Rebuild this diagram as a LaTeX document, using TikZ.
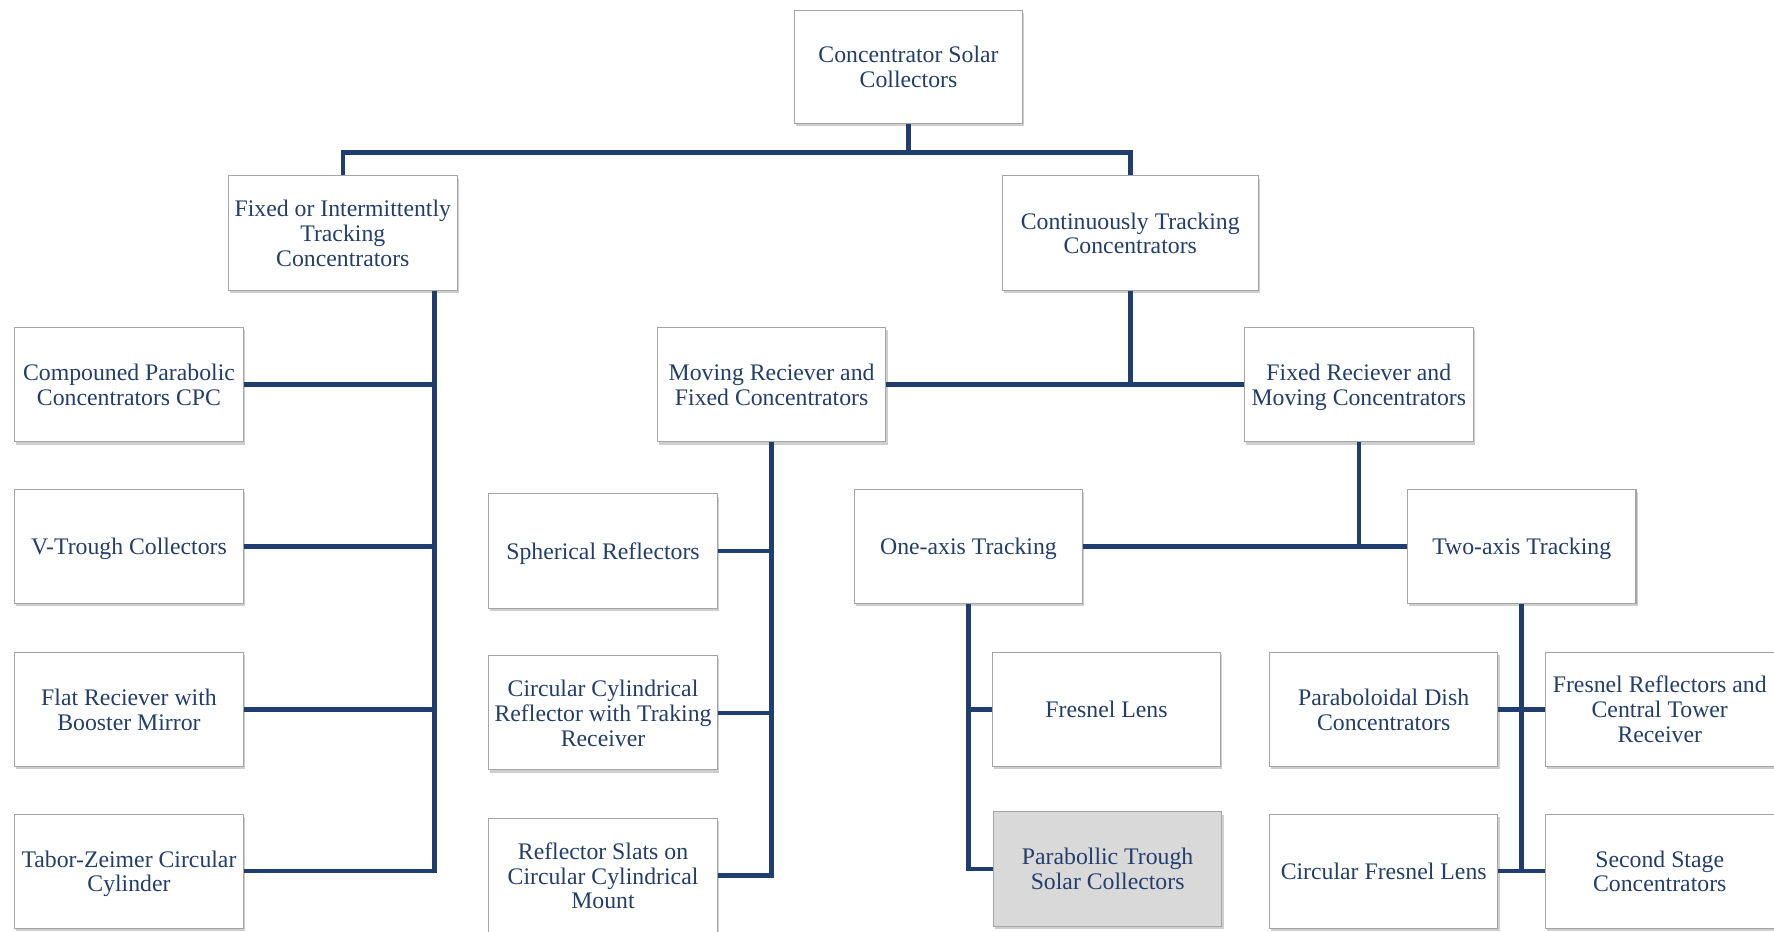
\documentclass[tikz,border=0pt]{standalone}
\usepackage{fontspec}
\setmainfont{Liberation Serif}
\usetikzlibrary{shadows,calc}
\definecolor{txt}{RGB}{36,62,108}
\definecolor{ln}{RGB}{31,61,110}
\definecolor{bd}{RGB}{165,165,165}
\definecolor{grayfill}{RGB}{217,217,217}
\newcommand{\topstrut}{\rule{0pt}{19.8pt}}
\newcommand{\botstrut}{\rule[-5pt]{0pt}{5pt}}
\newcommand{\bx}[1]{\topstrut#1\botstrut}
\begin{document}
\begin{tikzpicture}[x=1pt,y=-1pt,
  box/.style={draw=bd, line width=0.9pt, fill=white, minimum width=202pt, minimum height=101pt,
    inner sep=0pt, align=center, text=txt, font=\fontsize{21}{22}\selectfont,
    drop shadow={shadow xshift=1.5pt, shadow yshift=-2.5pt, opacity=0.35, fill=black!55}},
  conn/.style={draw=ln, line width=4pt, line join=miter}]
\useasboundingbox (0,0) rectangle (1568,823);

\node[box, minimum height=100pt] (root) at (803,59) {\bx{Concentrator Solar\\Collectors}};
\node[box] (fixed) at (303,206) {\bx{Fixed or Intermittently\\Tracking\\Concentrators}};
\node[box, minimum width=226pt] (cont) at (999,206) {\bx{Continuously Tracking\\Concentrators}};

\node[box] (cpc) at (114,340) {\bx{Compouned Parabolic\\Concentrators CPC}};
\node[box] (vtrough) at (114,483) {\bx{V-Trough Collectors}};
\node[box] (flat) at (114,627) {\bx{Flat Reciever with\\Booster Mirror}};
\node[box] (tabor) at (114,770) {\bx{Tabor-Zeimer Circular\\Cylinder}};

\node[box] (moving) at (682,340) {\bx{Moving Reciever and\\Fixed Concentrators}};
\node[box] (fixrec) at (1201,340) {\bx{Fixed Reciever and\\Moving Concentrators}};

\node[box] (spher) at (533,487) {\bx{Spherical Reflectors}};
\node[box] (circyl) at (533,630) {\bx{Circular Cylindrical\\Reflector with Traking\\Receiver}};
\node[box] (slats) at (533,774) {\bx{Reflector Slats on\\Circular Cylindrical\\Mount}};

\node[box] (oneax) at (856,483) {\bx{One-axis Tracking}};
\node[box] (twoax) at (1345,483) {\bx{Two-axis Tracking}};

\node[box] (fresnel) at (978,627) {\bx{Fresnel Lens}};
\node[box, fill=grayfill] (trough) at (979,768) {\bx{Parabollic Trough\\Solar Collectors}};

\node[box] (parab) at (1223,627) {\bx{Paraboloidal Dish\\Concentrators}};
\node[box] (frref) at (1467,627) {\bx{Fresnel Reflectors and\\Central Tower\\Receiver}};
\node[box] (circfl) at (1223,770) {\bx{Circular Fresnel Lens}};
\node[box] (second) at (1467,770) {\bx{Second Stage\\Concentrators}};

% root branch
\draw[conn] (root.south) -- (root.south |- 0,135);
\draw[conn] (fixed.north) -- (fixed.north |- 0,135) -- (cont.north |- 0,135) -- (cont.north);

% fixed branch
\coordinate (fv) at ([xshift=81pt]fixed.south);
\draw[conn] (fv) |- (tabor.east);
\draw[conn] (cpc.east) -- (cpc.east -| fv);
\draw[conn] (vtrough.east) -- (vtrough.east -| fv);
\draw[conn] (flat.east) -- (flat.east -| fv);

% continuously branch
\draw[conn] (cont.south) -- (cont.south |- moving.east);
\draw[conn] (moving.east) -- (fixrec.west);

% moving branch
\draw[conn] (moving.south) |- (slats.east);
\draw[conn] (spher.east) -- (spher.east -| moving.south);
\draw[conn] (circyl.east) -- (circyl.east -| moving.south);

% fixed receiver branch
\draw[conn] (fixrec.south) -- (fixrec.south |- oneax.east);
\draw[conn] (oneax.east) -- (twoax.west);

% one-axis branch
\draw[conn] (oneax.south) |- (trough.west);
\draw[conn] (fresnel.west) -- (fresnel.west -| oneax.south);

% two-axis branch
\draw[conn] (twoax.south) -- (twoax.south |- circfl.east);
\draw[conn] (parab.east) -- (frref.west);
\draw[conn] (circfl.east) -- (second.west);
\end{tikzpicture}
\end{document}
